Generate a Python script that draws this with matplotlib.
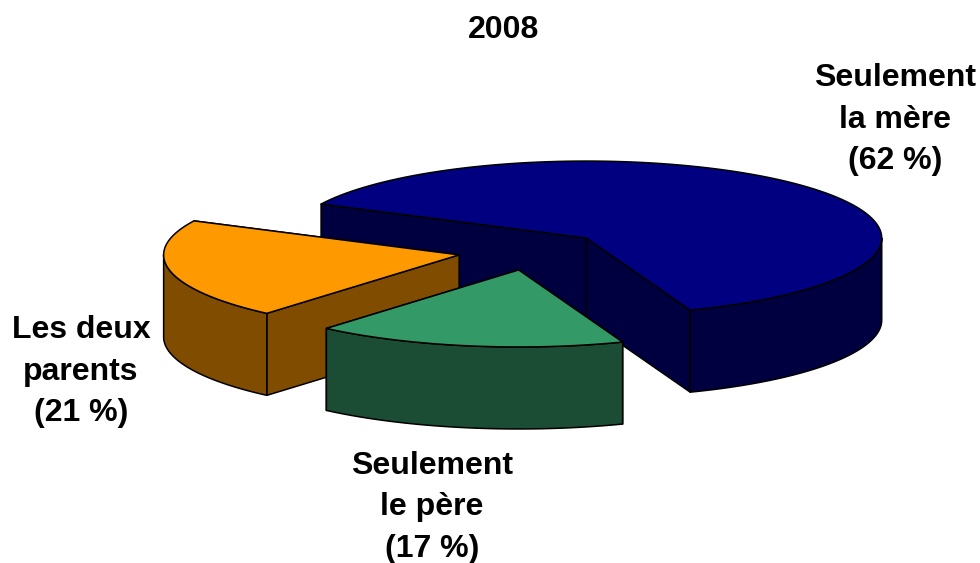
import numpy as np
import matplotlib
matplotlib.use("Agg")
import matplotlib.pyplot as plt
from matplotlib.patches import Polygon

plt.rcParams["font.family"] = ["Liberation Sans", "DejaVu Sans"]

# values in clockwise order from the start angle
shares = [62, 17, 21]
names = ["Seulement\nla mère\n(62 %)", "Seulement\nle père\n(17 %)", "Les deux\nparents\n(21 %)"]
top_colors = ["#000080", "#339966", "#FF9900"]
wall_colors = ["#000040", "#1A4D33", "#804D00"]
title = "2008"

# pie geometry, in pixels
cx, cy = 531.5, 251
rx, ry = 295.5, 77
depth = 82
explode = 0.25
start_angle = 153.8

label_pos = [(895, 120), (432, 507), (81, 372)]
draw_order = [0, 2, 1]  # back to front


def point(center, deg):
    a = np.radians(deg)
    return center[0] + rx * np.cos(a), center[1] - ry * np.sin(a)


def arc(center, a0, a1, n=120):
    a = np.radians(np.linspace(a0, a1, n))
    return np.column_stack([center[0] + rx * np.cos(a), center[1] - ry * np.sin(a)])


def wall(ax, pts, color):
    pts = np.asarray(pts)
    low = pts[::-1] + [0, depth]
    ax.add_patch(Polygon(np.vstack([pts, low]), closed=True, fc=color, ec="black", lw=1.1, joinstyle="round"))


spans = 360 * np.array(shares) / sum(shares)
ends = start_angle - np.cumsum(spans)
starts = ends + spans

fig = plt.figure(figsize=(9.8, 5.63), dpi=100)
ax = fig.add_axes([0, 0, 1, 1])
ax.set_xlim(0, 980)
ax.set_ylim(563, 0)
ax.axis("off")

for i in draw_order:
    mid = np.radians((starts[i] + ends[i]) / 2)
    c = (cx + explode * rx * np.cos(mid), cy - explode * ry * np.sin(mid))

    # radial walls first, the rim and the top go over whatever is hidden
    wall(ax, [c, point(c, ends[i])], wall_colors[i])
    wall(ax, [point(c, starts[i]), c], wall_colors[i])

    # rim: only the front half of the ellipse (-180 to 0 degrees) shows
    wall(ax, arc(c, min(starts[i], 0), max(ends[i], -180)), wall_colors[i])

    top = np.vstack([[c], arc(c, starts[i], ends[i])])
    ax.add_patch(Polygon(top, closed=True, fc=top_colors[i], ec="black", lw=1.1, joinstyle="round"))

ax.text(504, 30, title, ha="center", va="center", fontsize=23, fontweight="bold")
for name, (x, y) in zip(names, label_pos):
    ax.text(x, y, name, ha="center", va="center", fontsize=23, fontweight="bold", linespacing=1.5)

fig.savefig("out.png", dpi=100)
